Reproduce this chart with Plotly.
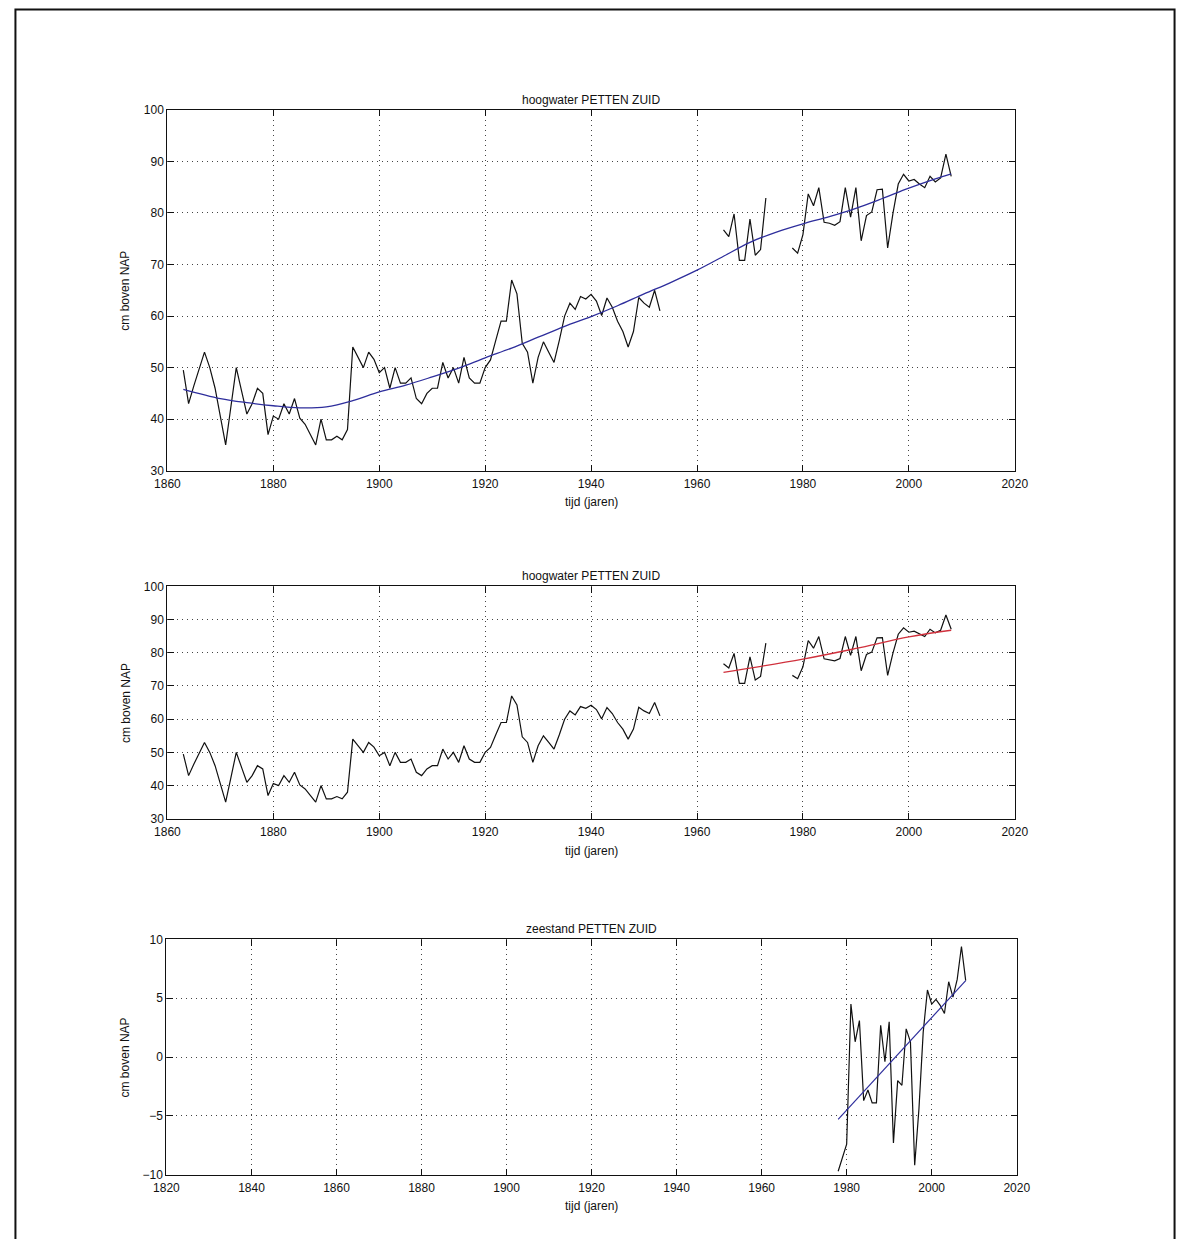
import plotly.graph_objects as go
from plotly.subplots import make_subplots

W, H = 1191, 1246

# ---- data -------------------------------------------------------------
# yearly mean high water at Petten Zuid (cm above NAP)
hw_1863_1953 = [49.5, 43.0, 46.5, 50.0, 53.0, 50.0, 46.0, 40.5, 35.0, 42.5,
                50.0, 45.5, 41.0, 43.0, 46.0, 45.0, 37.0, 40.6, 40.0, 43.0,
                41.0, 44.0, 40.2, 39.0, 37.0, 35.0, 40.0, 36.0, 36.0, 36.7,
                36.0, 38.0, 54.0, 52.0, 50.0, 53.0, 51.6, 49.0, 50.0, 46.0,
                50.0, 47.0, 47.0, 48.0, 44.0, 43.0, 45.0, 46.0, 46.0, 51.0,
                48.0, 50.0, 47.0, 52.0, 48.0, 47.0, 47.0, 50.0, 51.5, 55.3,
                59.0, 59.0, 67.0, 64.3, 54.7, 53.0, 47.0, 52.0, 55.0, 53.0,
                51.0, 55.3, 60.0, 62.5, 61.3, 63.8, 63.3, 64.2, 62.9, 60.1,
                63.5, 61.7, 59.0, 57.0, 54.0, 57.0, 63.6, 62.5, 61.7, 65.0,
                61.0]
hw_1965_1973 = [76.7, 75.4, 79.8, 70.8, 70.8, 78.8, 71.8, 72.9, 82.9]
hw_1978_2008 = [73.2, 72.2, 75.8, 83.7, 81.4, 84.9, 78.2, 78.0, 77.6, 78.3,
                84.9, 79.2, 84.9, 74.6, 79.5, 80.2, 84.5, 84.6, 73.2, 79.9,
                85.6, 87.5, 86.2, 86.5, 85.6, 84.9, 87.1, 86.0, 86.8, 91.4,
                87.1]

hw_years = list(range(1863, 2009))
hw_values = hw_1863_1953 + [None] * 11 + hw_1965_1973 + [None] * 4 + hw_1978_2008

# smooth fit through the whole record
fit_years = [1863, 1870, 1875, 1880, 1885, 1890, 1895, 1900, 1905, 1910,
             1915, 1920, 1925, 1930, 1935, 1940, 1945, 1950, 1955, 1960,
             1965, 1970, 1975, 1980, 1985, 1990, 1995, 2000, 2005, 2008]
fit_values = [45.8, 44.0, 43.2, 42.6, 42.2, 42.4, 43.6, 45.3, 46.6, 48.2,
              49.9, 51.9, 53.8, 55.9, 58.0, 59.9, 62.0, 64.3, 66.5, 68.9,
              71.6, 74.3, 76.3, 77.9, 79.3, 80.9, 82.8, 84.8, 86.6, 87.6]

# trend over the recent period
recent_years = [1965, 1980, 1990, 2000, 2008]
recent_values = [74.1, 78.1, 81.3, 84.8, 86.8]

# sea level anomaly (cm relative to NAP)
sl_years = list(range(1978, 2009))
sl_values = [-9.7, -8.6, -7.4, 4.5, 1.3, 3.1, -3.7, -2.8, -3.9, -3.9,
             2.7, -0.4, 3.0, -7.3, -2.0, -2.4, 2.4, 1.3, -9.2, -4.4,
             2.1, 5.7, 4.5, 4.9, 4.4, 3.7, 6.4, 5.1, 6.6, 9.4, 6.5]
sl_trend_years = [1978, 2008]
sl_trend_values = [-5.3, 6.5]

x_ticks_hw = [1860, 1880, 1900, 1920, 1940, 1960, 1980, 2000, 2020]
y_ticks_hw = [30, 40, 50, 60, 70, 80, 90, 100]
x_ticks_sl = [1820, 1840, 1860, 1880, 1900, 1920, 1940, 1960, 1980, 2000, 2020]
y_ticks_sl = [-10, -5, 0, 5, 10]

titles = ["hoogwater PETTEN ZUID", "hoogwater PETTEN ZUID", "zeestand PETTEN ZUID"]
x_title = "tijd (jaren)"
y_title = "cm boven NAP"

# ---- figure -----------------------------------------------------------
BLACK = "#111111"
BLUE = "#2e2e9c"
RED = "#d0303c"
FONT = "Liberation Sans, Arial, sans-serif"
FS = 12

fig = make_subplots(rows=3, cols=1)

fig.add_trace(go.Scatter(x=hw_years, y=hw_values, mode="lines",
                         line=dict(color=BLACK, width=1.2)), row=1, col=1)
fig.add_trace(go.Scatter(x=fit_years, y=fit_values, mode="lines",
                         line=dict(color=BLUE, width=1.3, shape="spline")), row=1, col=1)

fig.add_trace(go.Scatter(x=hw_years, y=hw_values, mode="lines",
                         line=dict(color=BLACK, width=1.2)), row=2, col=1)
fig.add_trace(go.Scatter(x=recent_years, y=recent_values, mode="lines",
                         line=dict(color=RED, width=1.3, shape="spline")), row=2, col=1)

fig.add_trace(go.Scatter(x=sl_years, y=sl_values, mode="lines",
                         line=dict(color=BLACK, width=1.2)), row=3, col=1)
fig.add_trace(go.Scatter(x=sl_trend_years, y=sl_trend_values, mode="lines",
                         line=dict(color=BLUE, width=1.2)), row=3, col=1)


def px_x(p):
    return p / W


def px_y(p):
    return 1 - p / H


# plot boxes in pixels: (left, right, top, bottom)
boxes = [(158, 1025, 104, 469), (158, 1025, 586, 821), (157, 1027, 943, 1181)]

axis_style = dict(
    showline=True, linecolor=BLACK, linewidth=1.3, mirror="allticks",
    ticks="inside", ticklen=6, tickwidth=1, tickcolor=BLACK,
    showgrid=True, gridcolor="#444444", gridwidth=1, griddash="1px,4px",
    zeroline=False, tickfont=dict(family=FONT, size=FS, color=BLACK),
)

ranges = [
    ([1860, 2020], x_ticks_hw, [30, 100], y_ticks_hw),
    ([1860, 2020], x_ticks_hw, [30, 100], y_ticks_hw),
    ([1820, 2020], x_ticks_sl, [-10, 10], y_ticks_sl),
]

for i, ((l, r, t, b), (xr, xt, yr, yt)) in enumerate(zip(boxes, ranges), start=1):
    fig.update_xaxes(domain=[px_x(l), px_x(r)], range=xr, tickvals=xt,
                     ticklabelstandoff=2, row=i, col=1, **axis_style)
    fig.update_yaxes(domain=[px_y(b), px_y(t)], range=yr, tickvals=yt,
                     row=i, col=1, **axis_style)

annotations = []
for (l, r, t, b), title in zip(boxes, titles):
    cx = px_x((l + r) / 2)
    annotations.append(dict(text=title, x=cx, y=px_y(t - 1), xref="paper", yref="paper",
                            xanchor="center", yanchor="bottom", showarrow=False,
                            font=dict(family=FONT, size=FS, color=BLACK)))
    annotations.append(dict(text=x_title, x=cx, y=px_y(b + 23), xref="paper", yref="paper",
                            xanchor="center", yanchor="top", showarrow=False,
                            font=dict(family=FONT, size=FS, color=BLACK)))
    annotations.append(dict(text=y_title, x=px_x(115), y=px_y((t + b) / 2),
                            xref="paper", yref="paper", textangle=-90,
                            xanchor="center", yanchor="middle", showarrow=False,
                            font=dict(family=FONT, size=FS, color=BLACK)))

# frame around the page
frame = dict(type="path", xref="paper", yref="paper",
             path=f"M {px_x(2.5)} 0 L {px_x(2.5)} {px_y(2.5)} L {px_x(1188.5)} {px_y(2.5)} L {px_x(1188.5)} 0",
             line=dict(color=BLACK, width=2))

fig.update_layout(
    width=W, height=H,
    margin=dict(l=0, r=0, t=0, b=0),
    paper_bgcolor="white", plot_bgcolor="white",
    showlegend=False,
    annotations=annotations,
    shapes=[frame],
    font=dict(family=FONT, size=FS, color=BLACK),
)

# let the figure sit flush against the page edges
fig.write_html("out.html",
               post_script="document.body.style.margin='0';document.body.style.padding='0';")
